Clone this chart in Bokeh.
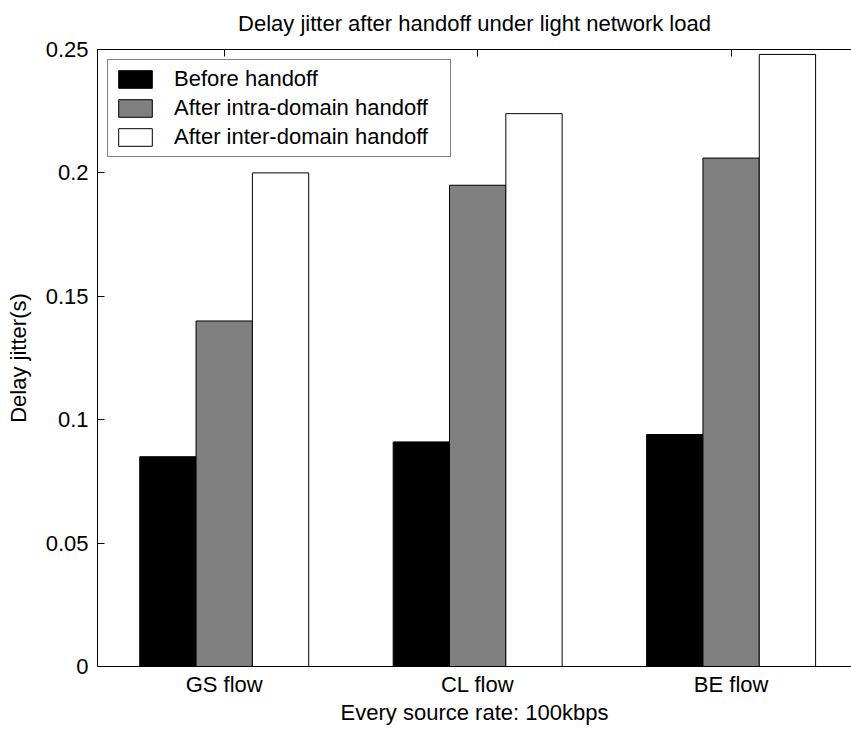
from bokeh.plotting import figure
from bokeh.models import FixedTicker, LinearAxis, Legend, LegendItem, Range1d
from bokeh.embed import file_html
from bokeh.resources import INLINE
import numpy as np

title_text = "Delay jitter after handoff under light network load"
categories = ["GS flow", "CL flow", "BE flow"]
series_names = ["Before handoff", "After intra-domain handoff", "After inter-domain handoff"]
before = [0.085, 0.091, 0.094]
intra = [0.140, 0.195, 0.206]
inter = [0.200, 0.224, 0.248]
y_ticks = [0, 0.05, 0.1, 0.15, 0.2, 0.25]
y_tick_labels = ["0", "0.05", "0.1", "0.15", "0.2", "0.25"]

colors = ["#000000", "#808080", "#ffffff"]
FONT = "Liberation Sans"
FS = "22px"

p = figure(width=851, height=729, output_backend="svg", toolbar_location=None,
           x_range=Range1d(0.5, 3.475), y_range=Range1d(0, 0.25),
           min_border_left=97, min_border_right=0, min_border_top=49, min_border_bottom=63,
           x_axis_type=None, y_axis_type=None)
p.outline_line_color = None
p.xgrid.visible = False
p.ygrid.visible = False
p.background_fill_color = "white"
p.border_fill_color = "white"

idx = np.arange(1, len(categories) + 1)
bw = 2.0 / 9.0
renderers = []
for k, vals in enumerate([before, intra, inter]):
    r = p.vbar(x=idx + (k - 1) * bw, top=vals, width=bw, bottom=0,
               fill_color=colors[k], line_color="black", line_width=1)
    renderers.append(r)

# bottom axis
xa = LinearAxis(ticker=FixedTicker(ticks=list(idx)),
                major_label_overrides={int(i): c for i, c in zip(idx, categories)},
                axis_label="Every source rate: 100kbps")
xa.major_tick_in = 0
xa.major_tick_out = 0
xa.minor_tick_in = 0
xa.minor_tick_out = 0
xa.major_label_standoff = 5
xa.axis_label_standoff = 0
p.add_layout(xa, "below")

# top axis (ticks only) carrying the chart title
ta = LinearAxis(ticker=FixedTicker(ticks=list(idx)),
                major_label_overrides={int(i): "" for i in idx},
                axis_label=title_text)
ta.major_tick_in = 7
ta.major_tick_out = 0
ta.minor_tick_in = 0
ta.minor_tick_out = 0
ta.major_label_standoff = 0
ta.major_label_text_font_size = "1px"
ta.axis_label_standoff = 14
p.add_layout(ta, "above")

# left axis
ya = LinearAxis(ticker=FixedTicker(ticks=y_ticks),
                major_label_overrides={t: l for t, l in zip(y_ticks, y_tick_labels)},
                axis_label="Delay jitter(s)")
ya.major_tick_in = 7
ya.major_tick_out = 0
ya.minor_tick_in = 0
ya.minor_tick_out = 0
ya.major_label_standoff = 9
ya.axis_label_standoff = 12
p.add_layout(ya, "left")

for ax in (xa, ta, ya):
    ax.axis_line_color = "black"
    ax.axis_line_width = 1
    ax.major_tick_line_color = "black"
    ax.major_label_text_color = "black"
    ax.major_label_text_font = FONT
    ax.axis_label_text_font = FONT
    ax.axis_label_text_font_size = FS
    ax.axis_label_text_font_style = "normal"
    ax.axis_label_text_color = "black"
xa.major_label_text_font_size = FS
ya.major_label_text_font_size = FS

legend = Legend(items=[LegendItem(label=n, renderers=[r]) for n, r in zip(series_names, renderers)],
                location="top_left")
legend.margin = 10
legend.padding = 6
legend.spacing = 3
legend.glyph_width = 42
legend.glyph_height = 22
legend.label_standoff = 18
legend.label_width = 270
legend.label_text_font = FONT
legend.label_text_font_size = FS
legend.label_text_color = "black"
legend.border_line_color = "black"
legend.border_line_width = 1
legend.background_fill_color = "white"
legend.background_fill_alpha = 1
p.add_layout(legend, "center")

open("out.html", "w").write(file_html(p, INLINE))
